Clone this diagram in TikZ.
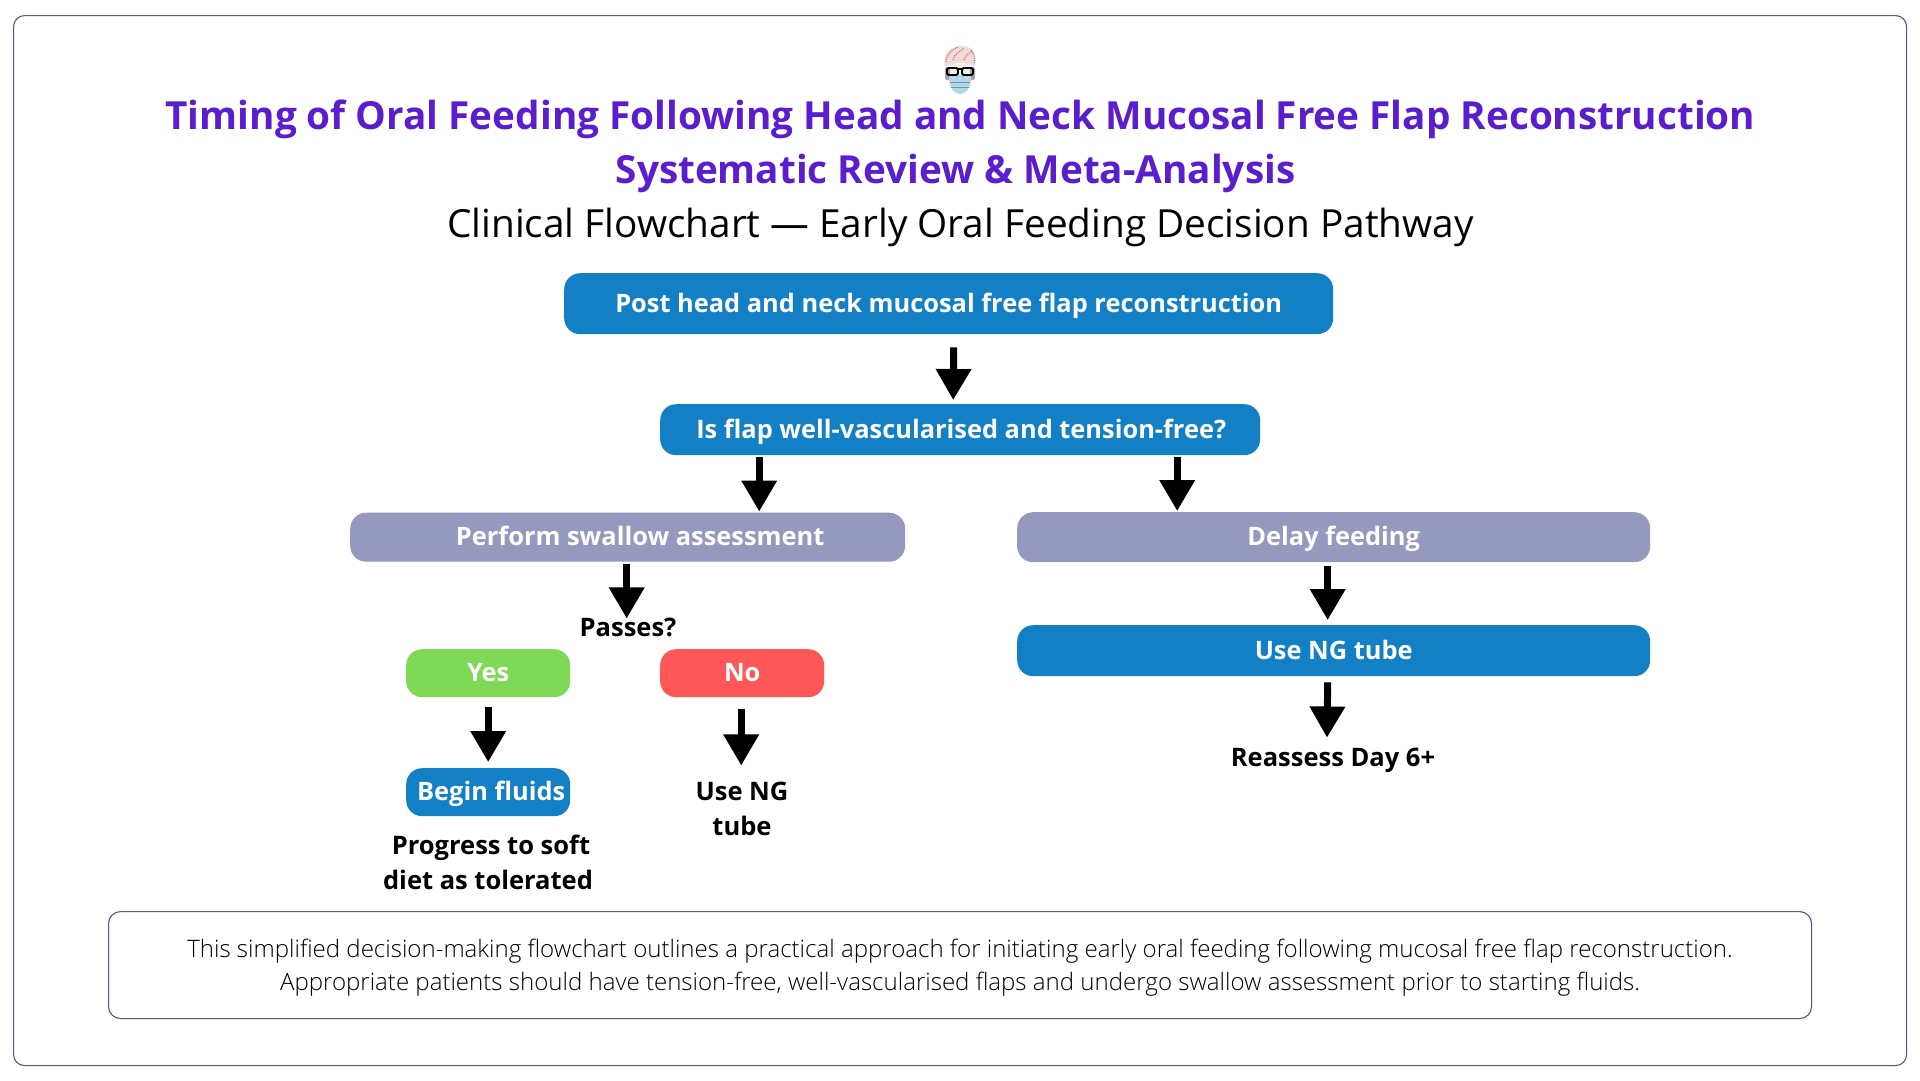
\documentclass[tikz,border=0pt]{standalone}
\usepackage{fontspec}
\setmainfont{Open Sans}
\newfontfamily\lightf{Open Sans Light}
\usetikzlibrary{arrows.meta}
\definecolor{titlepurple}{HTML}{5A1ECF}
\definecolor{boxblue}{HTML}{1380C6}
\definecolor{peri}{HTML}{9599BF}
\definecolor{okgreen}{HTML}{7ED957}
\definecolor{nored}{HTML}{FF5757}
\definecolor{framepurple}{HTML}{62518A}
\definecolor{hairpink}{HTML}{F0DADA}
\definecolor{hairred}{HTML}{BE7C7C}
\definecolor{maskblue}{HTML}{B4D8E8}
\tikzset{
  panel/.style={draw=framepurple,line width=1.1pt,rounded corners=11pt,fill=white,anchor=north west,inner sep=0pt},
  flowbox/.style={rounded corners=16pt,text=white,font=\fontsize{25.4}{30}\selectfont\bfseries,inner sep=0pt,anchor=north west,align=center,text height=18pt,text depth=0pt},
  liftup/.style={text height=20pt,text depth=4pt},
  plain/.style={font=\fontsize{25.5}{35}\selectfont\bfseries,text=black,align=center,inner sep=0pt},
  flowarrow/.style={line width=7pt,-{Triangle[width=34pt,length=31pt]},black},
  titlebold/.style={font=\fontsize{38.7}{48}\selectfont\bfseries,text=titlepurple,inner sep=0pt},
}
\begin{document}
\begin{tikzpicture}[x=1pt,y=-1pt]
\useasboundingbox (0,0) rectangle (1920,1080);
\fill[white] (0,0) rectangle (1920,1080);
\node[panel,minimum width=1893pt,minimum height=1050pt] (frame) at (13,15) {};
\node[panel,minimum width=1703pt,minimum height=107pt,rounded corners=12pt] (foot) at (108,911) {};

% logo
\begin{scope}
\fill[black!35,rounded corners=2pt] (945,67) rectangle (975,80);
\fill[white!94!black] (950,64) rectangle (970,80);
\fill[maskblue] (949,77) .. controls (949,89) and (955,94) .. (960,94) .. controls (965,94) and (971,89) .. (971,77) .. controls (966,74) and (954,74) .. (949,77) -- cycle;
\draw[boxblue!60!black!60,line width=.7pt] (950,82) -- (970,82) (951,87) -- (969,87);
\fill[hairpink] (945,67) .. controls (942,53) and (950,47) .. (960,46) .. controls (971,45) and (978,53) .. (975,67) .. controls (968,62) and (952,62) .. (945,67) -- cycle;
\draw[hairred,line width=1.1pt,densely dotted] (946,62) .. controls (946,53) and (953,50) .. (958,47) (953,60) .. controls (954,54) and (960,52) .. (964,48) (964,60) .. controls (966,54) and (970,53) .. (972,51) (974,63) .. controls (975,56) and (974,54) .. (971,50);
\draw[black,line width=1.8pt,rounded corners=1.5pt] (947,68) rectangle (958,75) (962,68) rectangle (973,75) (958,69) -- (962,69);
\end{scope}

% titles
\node[titlebold] (t1) at (960.5,119) {Timing of Oral Feeding Following Head and Neck Mucosal Free Flap Reconstruction};
\node[titlebold] (t2) at (955.5,173) {Systematic Review \& Meta-Analysis};
\node[font=\fontsize{38.75}{46}\selectfont,inner sep=0pt] (t3) at (960.5,227) {Clinical Flowchart — Early Oral Feeding Decision Pathway};

% boxes
\node[flowbox,fill=boxblue,minimum width=769pt,minimum height=61pt] (post) at (564,273) {Post head and neck mucosal free flap reconstruction};
\node[flowbox,fill=boxblue,minimum width=600pt,minimum height=51pt] (flap) at (660,404) {\hspace*{2pt}Is flap well-vascularised and tension-free?};
\node[flowbox,liftup,fill=peri,minimum width=555pt,minimum height=49pt] (swallow) at (350,512.5) {\hspace*{25pt}Perform swallow assessment};
\node[flowbox,liftup,fill=peri,minimum width=633pt,minimum height=50pt] (delay) at (1017,512) {Delay feeding};
\node[flowbox,fill=boxblue,minimum width=633pt,minimum height=51pt] (ngright) at (1017,625) {Use NG tube};
\node[flowbox,liftup,fill=okgreen,minimum width=164pt,minimum height=48pt] (yes) at (406,649) {Yes};
\node[flowbox,liftup,fill=nored,minimum width=164pt,minimum height=48pt] (no) at (660,649) {No};
\node[flowbox,liftup,fill=boxblue,minimum width=164pt,minimum height=48pt] (fluids) at (406,768) {\hspace*{6pt}Begin fluids};

% plain labels
\node[plain] (passes) at (628,627) {Passes?};
\node[plain] (ngleft) at (742,808.5) {Use NG\\tube};
\node[plain] (soft) at (488,862) {\hspace*{6pt}Progress to soft\\diet as tolerated};
\node[plain] (reassess) at (1333,760) {Reassess Day 6+};

\node[font=\fontsize{24.05}{33}\selectfont\lightf,align=center,inner sep=0pt] (foottext) at ([yshift=-3pt]foot.center) {This simplified decision-making flowchart outlines a practical approach for initiating early oral feeding following mucosal free flap reconstruction.\\Appropriate patients should have tension-free, well-vascularised flaps and undergo swallow assessment prior to starting fluids.};

% arrows
\draw[flowarrow] ([xshift=5pt,yshift=-13pt]post.south) -- ([xshift=-7pt,yshift=4pt]flap.north);
\draw[flowarrow] ([xshift=-201pt,yshift=-2pt]flap.south) -- ([xshift=-201pt,yshift=1pt]flap.south |- swallow.north);
\draw[flowarrow] ([xshift=217pt,yshift=-2pt]flap.south) -- ([xshift=217pt,yshift=1pt]flap.south |- delay.north);
\draw[flowarrow] ([xshift=-1pt,yshift=-2pt]swallow.south) -- ([xshift=-1pt,yshift=-1pt]swallow.south |- passes.north);
\draw[flowarrow] ([xshift=-6pt,yshift=-4pt]delay.south) -- ([xshift=-6pt,yshift=5pt]ngright.north);
\draw[flowarrow] ([xshift=-6pt,yshift=-6pt]ngright.south) -- ([xshift=-6pt,yshift=10pt]reassess.north);
\draw[flowarrow] ([yshift=-10pt]yes.south) -- ([yshift=6pt]fluids.north);
\draw[flowarrow] ([xshift=-1pt,yshift=-12pt]no.south) -- ([xshift=-1pt,yshift=16pt]no.south |- ngleft.north);
\end{tikzpicture}
\end{document}
